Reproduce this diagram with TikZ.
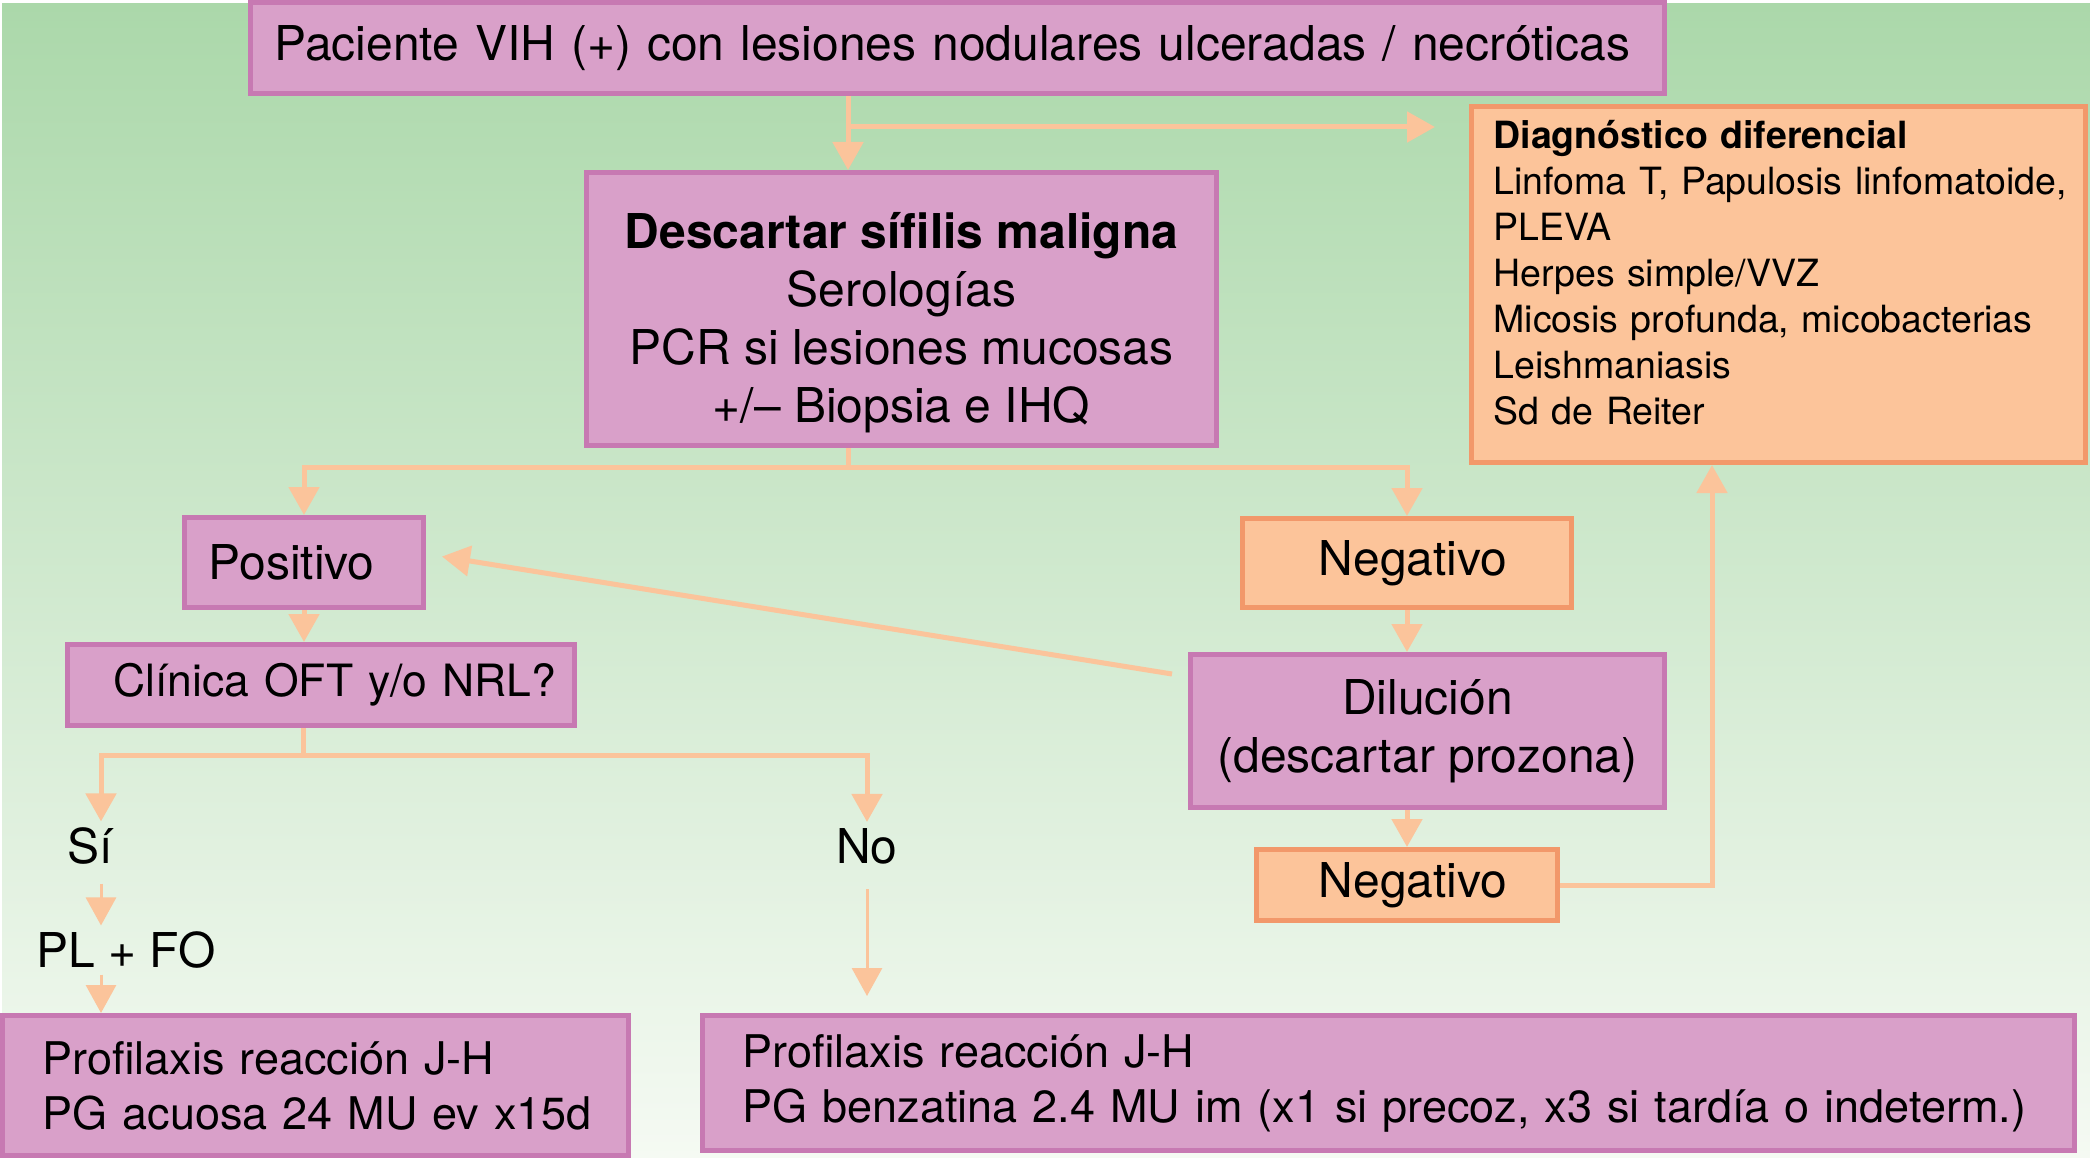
\documentclass[tikz,border=0pt]{standalone}
\usepackage{fontspec}
\setmainfont{TeX Gyre Heros}
\usepackage{tikz}
\usetikzlibrary{arrows.meta}

\definecolor{bgtop}{RGB}{171,216,170}
\definecolor{bgbot}{RGB}{245,250,243}
\definecolor{peach}{RGB}{251,196,155}
\definecolor{boxpink}{RGB}{217,160,201}
\definecolor{edgepink}{RGB}{199,121,178}
\definecolor{boxorange}{RGB}{252,196,154}
\definecolor{edgeorange}{RGB}{242,152,106}

\begin{document}
\begin{tikzpicture}[x=1pt,y=-1pt,
  box/.style={rectangle,line width=5pt,inner xsep=24pt,inner ysep=0pt,text=black},
  pinkbox/.style={box,fill=boxpink,draw=edgepink},
  orangebox/.style={box,fill=boxorange,draw=edgeorange},
  big/.style={font=\fontsize{48}{58}\selectfont},
  answer/.style={big,inner xsep=0pt,inner ysep=6pt},
  flowline/.style={draw=peach,line width=5pt},
  flow/.style={flowline,-{Triangle[width=30pt,length=28pt]}},
  thinflow/.style={flow,line width=3pt}]
\useasboundingbox (0,0) rectangle (2090,1158);
\shade[top color=bgtop,bottom color=bgbot] (2,4) rectangle (2090,1158);

% boxes
\node[pinkbox,big,minimum width=1414pt,minimum height=91pt,text width=1366pt,align=left] (patient) at (957.5,48) {Paciente VIH (+) con lesiones nodulares ulceradas / necróticas};
\node[pinkbox,big,minimum width=630pt,minimum height=273pt,align=center] (screen) at (901.5,309) {\rule{0pt}{64pt}\textbf{Descartar sífilis maligna}\\Serologías\\PCR si lesiones mucosas\\+/– Biopsia e IHQ};
\node[orangebox,font=\fontsize{37.5}{46}\selectfont,minimum width=614pt,minimum height=356pt,inner xsep=22pt,text width=570pt,align=left] (ddx) at (1778.5,284.5) {\textbf{Diagnóstico diferencial}\\\mbox{Linfoma T, Papulosis linfomatoide,}\\PLEVA\\Herpes simple/VVZ\\Micosis profunda, micobacterias\\Leishmaniasis\\Sd de Reiter\\[-22pt]\mbox{}};
\node[pinkbox,big,minimum width=239pt,minimum height=90pt,text width=191pt,align=left] (pos) at (304,562.5) {Positivo};
\node[orangebox,big,minimum width=329pt,minimum height=89pt] (neg1) at (1407,563) {\hspace*{12pt}Negativo};
\node[pinkbox,font=\fontsize{44.5}{54}\selectfont,minimum width=507pt,minimum height=81pt,text width=459pt,align=left] (clin) at (321,685) {\hspace*{22pt}\mbox{Clínica OFT y/o NRL?}};
\node[pinkbox,big,minimum width=474pt,minimum height=153pt,align=center] (dil) at (1427.5,731) {Dilución\\(descartar prozona)};
\node[orangebox,big,minimum width=301pt,minimum height=71pt] (neg2) at (1407,885) {\hspace*{12pt}Negativo};
\node[pinkbox,font=\fontsize{45}{55}\selectfont,minimum width=626pt,minimum height=140pt,inner xsep=40pt,text width=546pt,align=left] (trtA) at (315.5,1085.5) {Profilaxis reacción J-H\\\mbox{PG acuosa 24 MU ev x15d}};
\node[pinkbox,font=\fontsize{45}{55}\selectfont,minimum width=1372pt,minimum height=135pt,inner xsep=40pt,text width=1292pt,align=left] (trtB) at (1388.5,1083) {Profilaxis reacción J-H\\PG benzatina 2.4 MU im (x1 si precoz, x3 si tardía o indeterm.)};

% answers
\node[answer] (yes) at (90,846) {Sí};
\node[answer] (no) at (867,846) {No};
\node[answer] (lpfo) at (126,950) {PL + FO};

\coordinate (split1) at (848,127);
\coordinate (split2) at (848,467);
\coordinate (split3) at (303,755);
\coordinate (leftcol) at (101,0);
\coordinate (rise) at (1712,0);

% connectors
\draw[flow] (split1 |- patient.south) -- (split1 |- screen.north);
\draw[flow,shorten >=34pt] (split1) -- (split1 -| ddx.west);
\draw[flowline] (split2 |- screen.south) -- (split2);
\draw[flow] (split2) -| (pos.north);
\draw[flow] (split2) -| (neg1.north);
\draw[flow] (pos.south) -- (pos.south |- clin.north);
\draw[flow] ([shift={(-16,22)}]dil.north west) -- ([shift={(16,-6)}]pos.east);
\draw[flow] (neg1.south) -- (neg1.south |- dil.north);
\draw[flow] (neg2.north |- dil.south) -- (neg2.north);
\draw[flow] (neg2.east) -| (rise |- ddx.south);
\draw[flowline] (split3 |- clin.south) -- (split3);
\draw[flow] (split3) -| (leftcol |- yes.north);
\draw[flow] (split3) -| (no.north);
\draw[thinflow,shorten <=13pt] (leftcol |- yes.south) -- (leftcol |- lpfo.north);
\draw[thinflow] (leftcol |- lpfo.south) -- (leftcol |- trtA.north);
\draw[thinflow,shorten <=19pt,shorten >=17pt] (no.south) -- (no.south |- trtB.north);
\end{tikzpicture}
\end{document}
